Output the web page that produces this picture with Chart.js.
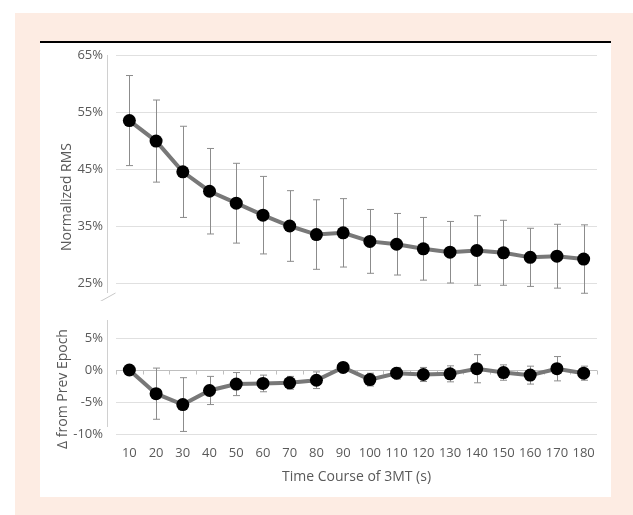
<!DOCTYPE html>
<html>
<head>
<meta charset="utf-8">
<script src="https://cdn.jsdelivr.net/npm/chart.js@4"></script>
<style>
  body { margin: 0; background: #fff; width: 633px; height: 515px; position: relative; overflow: hidden; }
  #frame { position: absolute; left: 15px; top: 13px; width: 618px; height: 502px; background: #fdece3; }
  #panel { position: absolute; left: 40px; top: 41px; width: 571px; height: 456px; background: #fff; border-top: 2px solid #000; box-sizing: border-box; }
  canvas { position: absolute; left: 40px; }
  #topChart { top: 41px; }
  #botChart { top: 320px; }
</style>
</head>
<body>
<div id="frame"></div>
<div id="panel"></div>
<canvas id="topChart" width="571" height="260"></canvas>
<canvas id="botChart" width="571" height="177"></canvas>
<script>
// time points (s)
const categories = [10, 20, 30, 40, 50, 60, 70, 80, 90, 100, 110, 120, 130, 140, 150, 160, 170, 180];

// normalized RMS (%) and its error
const rmsMean = [53.5, 49.9, 44.5, 41.1, 39.0, 36.9, 35.0, 33.5, 33.8, 32.3, 31.8, 31.0, 30.4, 30.7, 30.3, 29.5, 29.7, 29.2];
const rmsErr = [7.9, 7.2, 8.0, 7.5, 7.0, 6.8, 6.2, 6.1, 6.0, 5.6, 5.4, 5.5, 5.4, 6.1, 5.7, 5.1, 5.6, 6.0];

// change from previous epoch (%) and its error
const deltaMean = [0, -3.7, -5.4, -3.2, -2.2, -2.1, -2.0, -1.6, 0.4, -1.5, -0.5, -0.7, -0.6, 0.2, -0.4, -0.8, 0.2, -0.5];
const deltaErr = [0, 4.0, 4.2, 2.2, 1.8, 1.3, 1.0, 1.3, 0.7, 1.0, 0.9, 1.1, 1.25, 2.2, 1.2, 1.4, 1.9, 1.1];

// axis ticks
const rmsTicks = [25, 35, 45, 55, 65];
const deltaTicks = [-10, -5, 0, 5];

Chart.defaults.font.family = "'Open Sans', sans-serif";
Chart.defaults.font.size = 13;
Chart.defaults.color = '#595959';

const textGray = '#595959';
const gridGray = '#e0e0e0';
const axisGray = '#d0d0d0';

// draws the error bars behind the line
const errorBars = {
    id: 'errorBars',
    beforeDatasetsDraw(chart, args, opts) {
        const ctx = chart.ctx;
        const x = chart.scales.x;
        const y = chart.scales.y;
        ctx.save();
        ctx.strokeStyle = '#8c8c8c';
        ctx.lineWidth = 1;
        opts.mean.forEach(function(m, i) {
            const e = opts.err[i];
            if (!e) return;
            const px = Math.round(x.getPixelForValue(i)) + 0.5;
            const top = y.getPixelForValue(m + e);
            const bot = y.getPixelForValue(m - e);
            ctx.beginPath();
            ctx.moveTo(px, top); ctx.lineTo(px, bot);
            ctx.moveTo(px - 3.5, top); ctx.lineTo(px + 3.5, top);
            ctx.moveTo(px - 3.5, bot); ctx.lineTo(px + 3.5, bot);
            ctx.stroke();
        });
        ctx.restore();
    }
};

// vertical axis line a little left of the plot, break marks, zero ticks and the y title
const axisDeco = {
    id: 'axisDeco',
    beforeDraw(chart, args, opts) {
        const ctx = chart.ctx;
        const a = chart.chartArea;
        const lx = Math.round(a.left - 9) + 0.5;
        ctx.save();
        ctx.strokeStyle = axisGray;
        ctx.lineWidth = 1;
        ctx.beginPath();
        ctx.moveTo(lx, a.top + opts.from);
        ctx.lineTo(lx, a.bottom + opts.to);
        ctx.stroke();
        if (opts.brk) {
            ctx.strokeStyle = '#c8c8c8';
            ctx.beginPath();
            ctx.moveTo(lx - 10, a.bottom + 20); ctx.lineTo(lx + 8, a.bottom + 10);
            ctx.moveTo(lx - 8, a.bottom + 29); ctx.lineTo(lx + 8, a.bottom + 20);
            ctx.stroke();
        }
        if (opts.zeroTicks) {
            const x = chart.scales.x;
            const y0 = Math.round(chart.scales.y.getPixelForValue(0)) + 0.5;
            ctx.strokeStyle = '#bfbfbf';
            ctx.beginPath();
            for (let i = 0; i <= categories.length; i++) {
                const px = Math.round(x.getPixelForValue(i - 0.5)) + 0.5;
                ctx.moveTo(px, y0); ctx.lineTo(px, y0 + 4);
            }
            ctx.stroke();
        }
        // y title, placed like the original rather than centred on the plot
        ctx.translate(opts.titleX, opts.titleY);
        ctx.rotate(-Math.PI / 2);
        ctx.fillStyle = textGray;
        ctx.font = "14px 'Open Sans', sans-serif";
        ctx.textAlign = 'center';
        ctx.textBaseline = 'middle';
        ctx.fillText(opts.title, 0, 0);
        ctx.restore();
    }
};

function yAxis(ticks, min, max, zeroDark) {
    return {
        min: min,
        max: max,
        afterBuildTicks: function(s) { s.ticks = ticks.map(v => ({ value: v })); },
        afterFit: function(s) { s.width = 76; },
        border: { display: false },
        grid: {
            tickLength: 10,
            tickColor: 'rgba(0,0,0,0)',
            color: function(c) { return zeroDark && c.tick && c.tick.value === 0 ? '#bfbfbf' : gridGray; }
        },
        ticks: {
            padding: 3,
            color: textGray,
            callback: function(v) { return v + '%'; }
        }
    };
}

function lineSet(values) {
    return {
        data: values,
        borderColor: '#787878',
        borderWidth: 4,
        pointRadius: 6.5,
        pointBackgroundColor: '#000',
        pointBorderColor: '#000',
        pointBorderWidth: 0,
        tension: 0
    };
}

new Chart(document.getElementById('topChart'), {
    type: 'line',
    data: { labels: categories, datasets: [lineSet(rmsMean)] },
    options: {
        responsive: false,
        animation: false,
        layout: { padding: { top: 14, bottom: 18, right: 14, left: 0 } },
        plugins: {
            legend: { display: false },
            tooltip: { enabled: false },
            errorBars: { mean: rmsMean, err: rmsErr },
            axisDeco: { from: 0, to: 10, brk: true, zeroTicks: false, title: 'Normalized RMS', titleX: 27, titleY: 156 }
        },
        scales: {
            x: { display: false, offset: true },
            y: yAxis(rmsTicks, 25, 65, false)
        }
    },
    plugins: [errorBars, axisDeco]
});

new Chart(document.getElementById('botChart'), {
    type: 'line',
    data: { labels: categories, datasets: [lineSet(deltaMean)] },
    options: {
        responsive: false,
        animation: false,
        layout: { padding: { top: 18, bottom: 12, right: 14, left: 0 } },
        plugins: {
            legend: { display: false },
            tooltip: { enabled: false },
            errorBars: { mean: deltaMean, err: deltaErr },
            axisDeco: { from: -18, to: -7, brk: false, zeroTicks: true, title: 'Δ from Prev Epoch', titleX: 23, titleY: 69 }
        },
        scales: {
            x: {
                offset: true,
                afterFit: function(s) { s.height = 51; },
                border: { display: false },
                grid: { display: false },
                ticks: { padding: 3, color: textGray, autoSkip: false, maxRotation: 0 },
                title: {
                    display: true,
                    text: 'Time Course of 3MT (s)',
                    color: textGray,
                    font: { size: 14 },
                    padding: { bottom: 0 }
                }
            },
            y: yAxis(deltaTicks, -10, 5, true)
        }
    },
    plugins: [errorBars, axisDeco]
});
</script>
</body>
</html>
